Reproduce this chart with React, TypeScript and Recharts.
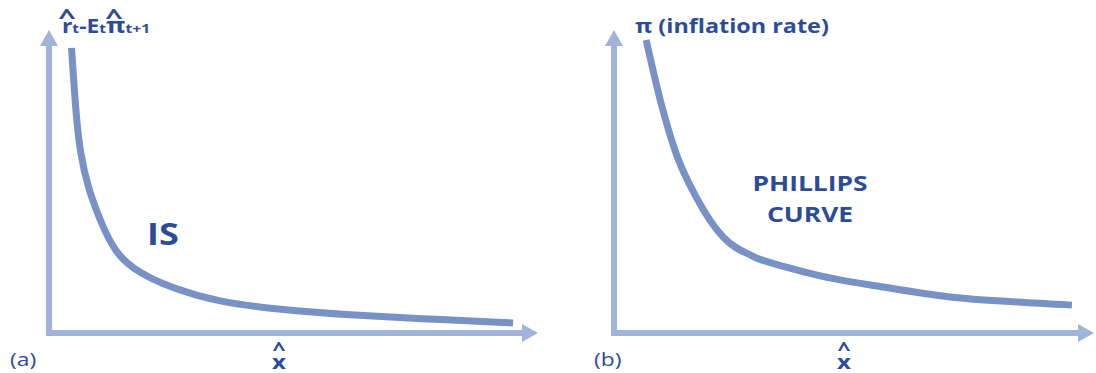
import { LineChart, Line, XAxis, YAxis, ReferenceLine } from "recharts";

// IS curve (panel a): output gap vs. real rate gap
const isX = [4.6, 5.6, 6.4, 7.9, 10.4, 13.5, 17.6, 20.7, 24.7, 34.4, 47.9, 61.6, 75.3, 94.9];
const isY = [94.1, 70.3, 59.4, 48.2, 37.3, 26.4, 20.8, 18.2, 15.2, 10.2, 7.6, 5.9, 4.8, 3.3];

// Phillips curve (panel b): output gap vs. inflation
const pcX = [6.7, 9.8, 12.9, 17.1, 22.7, 28.8, 36.5, 42.3, 56.0, 70.0, 84.0, 95.4];
const pcY = [96.7, 75.9, 59.4, 44.9, 31.7, 25.4, 21.5, 19.1, 15.2, 11.9, 10.2, 9.2];

const axisMax = 100;

const AXIS = "#a0b3d9";
const CURVE = "#7892c6";
const TEXT = "#2c4c9a";
const FONT = "'Open Sans', sans-serif";
const STRETCH = 1.2;

const isData = isX.map((x, i) => ({ x, y: isY[i] }));
const pcData = pcX.map((x, i) => ({ x, y: pcY[i] }));

// axis line with a filled arrow head at the far end
const ArrowAxis = (props: any) => {
  const { x1, y1, x2, y2 } = props;
  const len = 16;
  const half = 9;
  const horizontal = Math.abs(y2 - y1) < Math.abs(x2 - x1);
  let head: string;
  let ex = x2;
  let ey = y2;
  if (horizontal) {
    ex = x2 - len;
    head = `${x2},${y2} ${ex},${y2 - half} ${ex},${y2 + half}`;
  } else {
    ey = y2 + len;
    head = `${x2},${y2} ${x2 - half},${ey} ${x2 + half},${ey}`;
  }
  return (
    <g>
      <line x1={x1} y1={y1} x2={ex} y2={ey} stroke={AXIS} strokeWidth={6} strokeLinecap="square" />
      <polygon points={head} fill={AXIS} />
    </g>
  );
};

// text drawn a little wider than the font's natural width
const Wide = ({ x, y, size, bold = true, anchor = "start", sx = STRETCH, children }: any) => (
  <g transform={`translate(${x},${y}) scale(${sx},1)`}>
    <text x={0} y={0} fontSize={size} fontWeight={bold ? 700 : 400} textAnchor={anchor}>
      {children}
    </text>
  </g>
);

const Panel = ({ data, left, marginLeft, marginRight, curve }: any) => (
  <div style={{ position: "absolute", left, top: 0 }}>
    <LineChart
      width={548}
      height={373}
      data={data}
      margin={{ top: 30, right: marginRight, bottom: 40, left: marginLeft }}
    >
      <XAxis type="number" dataKey="x" domain={[0, axisMax]} hide />
      <YAxis type="number" domain={[0, axisMax]} hide />
      <ReferenceLine
        segment={[{ x: 0, y: 0 }, { x: axisMax, y: 0 }]}
        shape={ArrowAxis}
        ifOverflow="visible"
      />
      <ReferenceLine
        segment={[{ x: 0, y: 0 }, { x: 0, y: axisMax }]}
        shape={ArrowAxis}
        ifOverflow="visible"
      />
      <Line
        type={curve}
        dataKey="y"
        stroke={CURVE}
        strokeWidth={7}
        dot={false}
        activeDot={false}
        isAnimationActive={false}
      />
    </LineChart>
  </div>
);

export default function App() {
  return (
    <div
      style={{
        position: "absolute",
        left: 0,
        top: 0,
        width: 1096,
        height: 373,
        background: "#fff",
        overflow: "hidden",
      }}
    >
      <Panel data={isData} left={0} marginLeft={49} marginRight={10} curve="basis" />
      <Panel data={pcData} left={548} marginLeft={66} marginRight={2} curve="monotone" />
      <svg
        width={1096}
        height={373}
        style={{ position: "absolute", left: 0, top: 0, pointerEvents: "none" }}
        fontFamily={FONT}
        fill={TEXT}
      >
        {/* panel a */}
        <Wide x={67} y={24} size={22} anchor="middle" sx={1.4}>^</Wide>
        <Wide x={114} y={24} size={22} anchor="middle" sx={1.4}>^</Wide>
        <Wide x={62} y={33} size={19}>
          r<tspan fontSize={13}>t</tspan>-E<tspan fontSize={13}>t</tspan>
          <tspan fontSize={22}>π</tspan>
          <tspan fontSize={13}>t+1</tspan>
        </Wide>
        <Wide x={147} y={245} size={30}>IS</Wide>
        <Wide x={279} y={356} size={19} anchor="middle">^</Wide>
        <Wide x={279} y={369} size={20} anchor="middle">x</Wide>
        <Wide x={10} y={366} size={19} bold={false}>(a)</Wide>

        {/* panel b */}
        <Wide x={635} y={33} size={19.5}>π (inflation rate)</Wide>
        <Wide x={810} y={191} size={22} anchor="middle">PHILLIPS</Wide>
        <Wide x={810} y={222} size={22} anchor="middle">CURVE</Wide>
        <Wide x={844} y={356} size={19} anchor="middle">^</Wide>
        <Wide x={844} y={369} size={20} anchor="middle">x</Wide>
        <Wide x={594} y={366} size={19} bold={false}>(b)</Wide>
      </svg>
    </div>
  );
}
